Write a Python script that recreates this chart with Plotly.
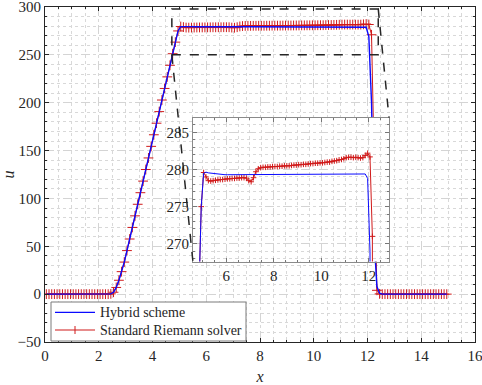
import plotly.graph_objects as go

# ---- data (cell centres 0.05 ... 14.95) ----
x = [round(0.05 + 0.1 * i, 2) for i in range(150)]

rise = [0.3, 2, 7, 14.5, 23.5, 33.5, 45.5, 57.6, 69.7, 81.8, 93.9, 106.0, 118.1, 130.2,
        142.3, 154.4, 166.5, 178.6, 190.7, 202.8, 214.9, 227.0, 239.1, 251.2, 263.3, 275.0]

u_standard = ([0] * 24 + rise + [
    279.6, 279.0, 278.5, 278.45, 278.5, 278.55, 278.6, 278.65, 278.65, 278.7,
    278.75, 278.75, 278.8, 278.8, 278.85, 278.85, 278.9, 278.9, 278.85, 278.5,
    278.35, 278.9, 279.7, 280.1, 280.25, 280.3, 280.3, 280.35, 280.35, 280.4,
    280.4, 280.4, 280.45, 280.45, 280.5, 280.5, 280.5, 280.55, 280.6, 280.6,
    280.65, 280.65, 280.7, 280.7, 280.75, 280.8, 280.8, 280.85, 280.85, 280.9,
    280.9, 280.95, 281.0, 281.0, 281.1, 281.15, 281.2, 281.3, 281.35, 281.45,
    281.6, 281.65, 281.65, 281.6, 281.65, 281.6, 281.55, 281.6, 281.9, 282.2,
    281.7, 271.0, 120, 4, 0.3] + [0] * 25)

u_hybrid = ([0] * 24 + rise + [
    279.5, 279.65, 279.55, 279.5, 279.45, 279.4, 279.35] + [279.3] * 59 + [
    279.35, 279.4, 279.4, 278.8, 269, 200, 55, 8, 1] + [0] * 25)

names = ["Hybrid scheme", "Standard Riemann solver"]
main_xticks = [0, 2, 4, 6, 8, 10, 12, 14, 16]
main_yticks = [-50, 0, 50, 100, 150, 200, 250, 300]
inset_xticks = [6, 8, 10, 12]
inset_yticks = [270, 275, 280, 285]

# ---- layout constants ----
W, H = 482, 385
M_L, M_R, M_T, M_B = 45, 7, 7, 43
X_RANGE = [0, 16]
Y_RANGE = [-50, 300]
IN_X_RANGE = [4.6, 12.85]
IN_Y_RANGE = [267.6, 287.0]
IN_DOM_X = [0.344, 0.80]
IN_DOM_Y = [0.240, 0.670]
RECT_X = [4.72, 12.4]
RECT_Y = [250, 298]

FONT = "Times New Roman, Liberation Serif, serif"
BLUE = "#0a0aff"
RED = "#d01a1a"
AX = "#262626"

PW = W - M_L - M_R
PH = H - M_T - M_B

fig = go.Figure()

# main traces
fig.add_trace(go.Scatter(x=x, y=u_standard, mode="lines+markers", name=names[1],
                         line=dict(color=RED, width=1),
                         marker=dict(symbol="cross-thin", size=7, line=dict(color=RED, width=1)),
                         xaxis="x", yaxis="y"))
fig.add_trace(go.Scatter(x=x, y=u_hybrid, mode="lines", name=names[0],
                         line=dict(color=BLUE, width=1.4), xaxis="x", yaxis="y"))
# inset traces
fig.add_trace(go.Scatter(x=x, y=u_standard, mode="lines+markers", name=names[1],
                         line=dict(color=RED, width=1),
                         marker=dict(symbol="cross-thin", size=4, line=dict(color=RED, width=1)),
                         xaxis="x2", yaxis="y2"))
fig.add_trace(go.Scatter(x=x, y=u_hybrid, mode="lines", name=names[0],
                         line=dict(color=BLUE, width=1), xaxis="x2", yaxis="y2"))

common = dict(showline=True, linecolor=AX, linewidth=1, mirror="ticks", ticks="inside",
              ticklen=4, tickcolor=AX, zeroline=False, showgrid=True, automargin=False,
              gridcolor="#d4d4d4", griddash="dash", gridwidth=1, ticklabeloverflow="allow",
              tickfont=dict(family=FONT, size=15, color=AX))

fig.update_layout(
    width=W, height=H,
    margin=dict(l=M_L, r=M_R, t=M_T, b=M_B),
    paper_bgcolor="white", plot_bgcolor="white",
    font=dict(family=FONT, size=15, color=AX),
    showlegend=False,
    xaxis=dict(range=X_RANGE, tickvals=main_xticks,
               title=dict(text="<i>x</i>", font=dict(family=FONT, size=16, color=AX), standoff=7),
               minor=dict(dtick=0.5, tick0=0, showgrid=True, griddash="dot", gridcolor="#d8d8d8",
                          ticks="inside", ticklen=2, tickcolor=AX),
               **common),
    yaxis=dict(range=Y_RANGE, tickvals=main_yticks,
               title=dict(text="<i>u</i>", font=dict(family=FONT, size=16, color=AX), standoff=11),
               minor=dict(dtick=10, tick0=0, showgrid=True, griddash="dot", gridcolor="#d8d8d8",
                          ticks="inside", ticklen=2, tickcolor=AX),
               **common),
    xaxis2=dict(domain=IN_DOM_X, anchor="y2", range=IN_X_RANGE, tickvals=inset_xticks,
                minor=dict(dtick=0.5, tick0=0, showgrid=True, griddash="dot", gridcolor="#d8d8d8",
                           ticks="inside", ticklen=2, tickcolor="#777"),
                **{**common, "linecolor": "#8a8a8a", "tickcolor": "#777"}),
    yaxis2=dict(domain=IN_DOM_Y, anchor="x2", range=IN_Y_RANGE, tickvals=inset_yticks,
                minor=dict(dtick=1, tick0=0, showgrid=True, griddash="dot", gridcolor="#d8d8d8",
                           ticks="inside", ticklen=2, tickcolor="#777"),
                **{**common, "linecolor": "#8a8a8a", "tickcolor": "#777"}),
)


def px(v):
    return (v - X_RANGE[0]) / (X_RANGE[1] - X_RANGE[0])


def py(v):
    return (v - Y_RANGE[0]) / (Y_RANGE[1] - Y_RANGE[0])


# zoom indicator
dash_line = dict(color=AX, width=1.5, dash="dash")
fig.add_shape(type="rect", xref="x", yref="y", x0=RECT_X[0], x1=RECT_X[1],
              y0=RECT_Y[0], y1=RECT_Y[1], line=dash_line, layer="above")
fig.add_shape(type="line", xref="paper", yref="paper",
              x0=px(RECT_X[0]), y0=py(RECT_Y[0]), x1=IN_DOM_X[0], y1=IN_DOM_Y[0],
              line=dash_line, layer="above")
fig.add_shape(type="line", xref="paper", yref="paper",
              x0=px(RECT_X[1]), y0=py(RECT_Y[1]), x1=IN_DOM_X[1], y1=IN_DOM_Y[1],
              line=dash_line, layer="above")


# ---- legend box (pixel layout converted to paper coordinates) ----
def lx(p):
    return (p - M_L) / PW


def ly(p):
    return (H - M_B - p) / PH


LEG_BOX = (51, 302, 246, 341)      # left, top, right, bottom in px
ROWS = [312.3, 330.0]
fig.add_shape(type="rect", xref="paper", yref="paper",
              x0=lx(LEG_BOX[0]), x1=lx(LEG_BOX[2]), y0=ly(LEG_BOX[3]), y1=ly(LEG_BOX[1]),
              fillcolor="white", line=dict(color="#7a7a7a", width=1), layer="above")
entries = [(names[0], BLUE, False), (names[1], RED, True)]
for (label, col, mark), row in zip(entries, ROWS):
    fig.add_shape(type="line", xref="paper", yref="paper",
                  x0=lx(55), x1=lx(95), y0=ly(row), y1=ly(row),
                  line=dict(color=col, width=1.2), layer="above")
    if mark:
        fig.add_shape(type="line", xref="paper", yref="paper",
                      x0=lx(75), x1=lx(75), y0=ly(row - 4), y1=ly(row + 4),
                      line=dict(color=col, width=1), layer="above")
    fig.add_annotation(xref="paper", yref="paper", x=lx(98), y=ly(row),
                       xanchor="left", yanchor="middle", showarrow=False, text=label,
                       font=dict(family=FONT, size=14, color=AX))

fig.write_html("out.html", config={"displayModeBar": False},
               post_script="document.body.style.margin='0';document.body.style.padding='0';")
